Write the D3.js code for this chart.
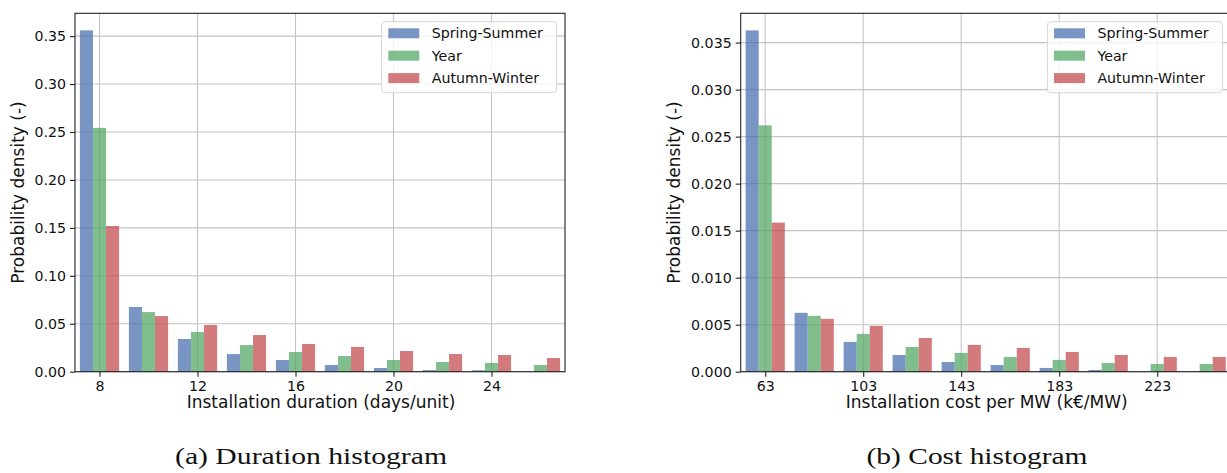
<!DOCTYPE html>
<html>
<head>
<meta charset="utf-8">
<script src="https://cdn.jsdelivr.net/npm/d3@7"></script>
<style>
  html, body { margin: 0; padding: 0; background: #fff; overflow: hidden; }
  svg { display: block; font-family: "DejaVu Sans", sans-serif; }
</style>
</head>
<body>
<svg id="chart" width="1227" height="473"></svg>
<script>
// series names + colours (seaborn deep, drawn with alpha)
const seriesNames = ["Spring-Summer", "Year", "Autumn-Winter"];
const seriesColors = ["#4C72B0", "#55A868", "#C44E52"];

// (a) duration histogram - bin centres in days/unit
const durationBins = [8, 10, 12, 14, 16, 18, 20, 22, 24, 26];
const durationSpring = [0.356, 0.0675, 0.0341, 0.0184, 0.0122, 0.0070, 0.0038, 0.0017, 0.0015, 0.0];
const durationYear = [0.2543, 0.0622, 0.0414, 0.0278, 0.0205, 0.0163, 0.0122, 0.0101, 0.0091, 0.0070];
const durationAutumn = [0.152, 0.0580, 0.0487, 0.0383, 0.0289, 0.0258, 0.0216, 0.0184, 0.0174, 0.0143];
const durationXTicks = [8, 12, 16, 20, 24];
const durationYTicks = [0, 0.05, 0.10, 0.15, 0.20, 0.25, 0.30, 0.35];

// (b) cost histogram - bin centres in k€/MW
const costBins = [63, 83, 103, 123, 143, 163, 183, 203, 223, 243];
const costSpring = [0.0363, 0.00626, 0.00317, 0.00178, 0.00103, 0.00071, 0.00040, 0.00018, 0.0, 0.0];
const costYear = [0.0262, 0.00594, 0.00402, 0.00263, 0.00199, 0.00157, 0.00125, 0.00093, 0.00082, 0.00082];
const costAutumn = [0.01585, 0.00562, 0.00487, 0.00359, 0.00285, 0.00253, 0.00210, 0.00178, 0.00157, 0.00157];
const costXTicks = [63, 103, 143, 183, 223];
const costYTicks = [0, 0.005, 0.010, 0.015, 0.020, 0.025, 0.030, 0.035];

const svg = d3.select("#chart");
const plotTop = 13.3, plotBottom = 371.7;
const tickFont = 14.2, labelFont = 17;

function drawPanel(cfg) {
    const binW = cfg.bins[1] - cfg.bins[0];
    const x = d3.scaleLinear()
        .domain([cfg.bins[0] - binW / 2, cfg.bins[cfg.bins.length - 1] + binW / 2])
        .range([cfg.left, cfg.right]);
    const ymax = d3.max(cfg.series.flat()) * 1.05;
    const y = d3.scaleLinear().domain([0, ymax]).range([plotBottom, plotTop]);

    const g = svg.append("g");

    // grid first, bars are translucent so it shows through
    g.append("g").selectAll("line").data(cfg.yTicks).enter().append("line")
        .attr("x1", cfg.left).attr("x2", cfg.right)
        .attr("y1", d => y(d)).attr("y2", d => y(d))
        .attr("stroke", "#c4c4c4").attr("stroke-width", 1.1);
    g.append("g").selectAll("line").data(cfg.xTicks).enter().append("line")
        .attr("x1", d => x(d)).attr("x2", d => x(d))
        .attr("y1", plotTop).attr("y2", plotBottom)
        .attr("stroke", "#c4c4c4").attr("stroke-width", 1.1);

    // grouped bars, 80% of the bin split over 3 series
    const bw = binW * 0.8 / 3;
    cfg.series.forEach((vals, si) => {
        g.append("g").selectAll("rect").data(vals).enter().append("rect")
            .attr("x", (d, i) => x(cfg.bins[i] - binW * 0.4 + si * bw))
            .attr("width", x(bw) - x(0))
            .attr("y", d => y(d))
            .attr("height", d => plotBottom - y(d))
            .attr("fill", seriesColors[si])
            .attr("fill-opacity", 0.75);
    });

    // axes
    const axX = g.append("g").attr("transform", `translate(0,${plotBottom})`)
        .call(d3.axisBottom(x).tickValues(cfg.xTicks).tickSize(5).tickPadding(4));
    const axY = g.append("g").attr("transform", `translate(${cfg.left},0)`)
        .call(d3.axisLeft(y).tickValues(cfg.yTicks).tickFormat(d3.format(cfg.yFmt)).tickSize(5).tickPadding(4));
    [axX, axY].forEach(a => {
        a.select(".domain").remove();
        a.selectAll("line").attr("stroke", "#222").attr("stroke-width", 1.1);
        a.selectAll("text").attr("font-size", tickFont).attr("fill", "#111")
            .attr("font-family", "DejaVu Sans");
    });

    // spines
    g.append("rect")
        .attr("x", cfg.left).attr("y", plotTop)
        .attr("width", cfg.right - cfg.left).attr("height", plotBottom - plotTop)
        .attr("fill", "none").attr("stroke", "#222").attr("stroke-width", 1.1);

    // labels
    g.append("text")
        .attr("x", (cfg.left + cfg.right) / 2 + 1).attr("y", 407.5)
        .attr("text-anchor", "middle").attr("font-size", labelFont).attr("fill", "#111")
        .text(cfg.xLabel);
    g.append("text")
        .attr("transform", `translate(${cfg.yLabelX},${(plotTop + plotBottom) / 2}) rotate(-90)`)
        .attr("text-anchor", "middle").attr("font-size", labelFont).attr("fill", "#111")
        .text("Probability density (-)");

    // legend, upper right
    const lgRight = cfg.right - 8.3;
    const lg = g.append("g").attr("transform", `translate(${lgRight - 175},21.7)`);
    lg.append("rect").attr("width", 175).attr("height", 71).attr("rx", 3)
        .attr("fill", "#fff").attr("fill-opacity", 0.8)
        .attr("stroke", "#d6d6d6").attr("stroke-width", 1);
    seriesNames.forEach((name, i) => {
        const cy = 11.6 + i * 22.4;
        lg.append("rect").attr("x", 6.6).attr("y", cy - 5).attr("width", 31).attr("height", 10)
            .attr("fill", seriesColors[i]).attr("fill-opacity", 0.75);
        lg.append("text").attr("x", 50).attr("y", cy + 5.1)
            .attr("font-size", tickFont).attr("fill", "#111").text(name);
    });

    // caption
    svg.append("text")
        .attr("x", cfg.captionX).attr("y", 464)
        .attr("text-anchor", "middle")
        .attr("font-family", "Liberation Serif, serif").attr("font-size", 23)
        .attr("textLength", cfg.captionW).attr("lengthAdjust", "spacingAndGlyphs")
        .attr("fill", "#111")
        .text(cfg.caption);
}

drawPanel({
    left: 75, right: 565,
    bins: durationBins,
    series: [durationSpring, durationYear, durationAutumn],
    xTicks: durationXTicks, yTicks: durationYTicks, yFmt: ".2f",
    xLabel: "Installation duration (days/unit)", yLabelX: 24,
    caption: "(a) Duration histogram", captionX: 311, captionW: 272
});

drawPanel({
    left: 740.7, right: 1230.7,
    bins: costBins,
    series: [costSpring, costYear, costAutumn],
    xTicks: costXTicks, yTicks: costYTicks, yFmt: ".3f",
    xLabel: "Installation cost per MW (k€/MW)", yLabelX: 680,
    caption: "(b) Cost histogram", captionX: 977, captionW: 221
});
</script>
</body>
</html>
